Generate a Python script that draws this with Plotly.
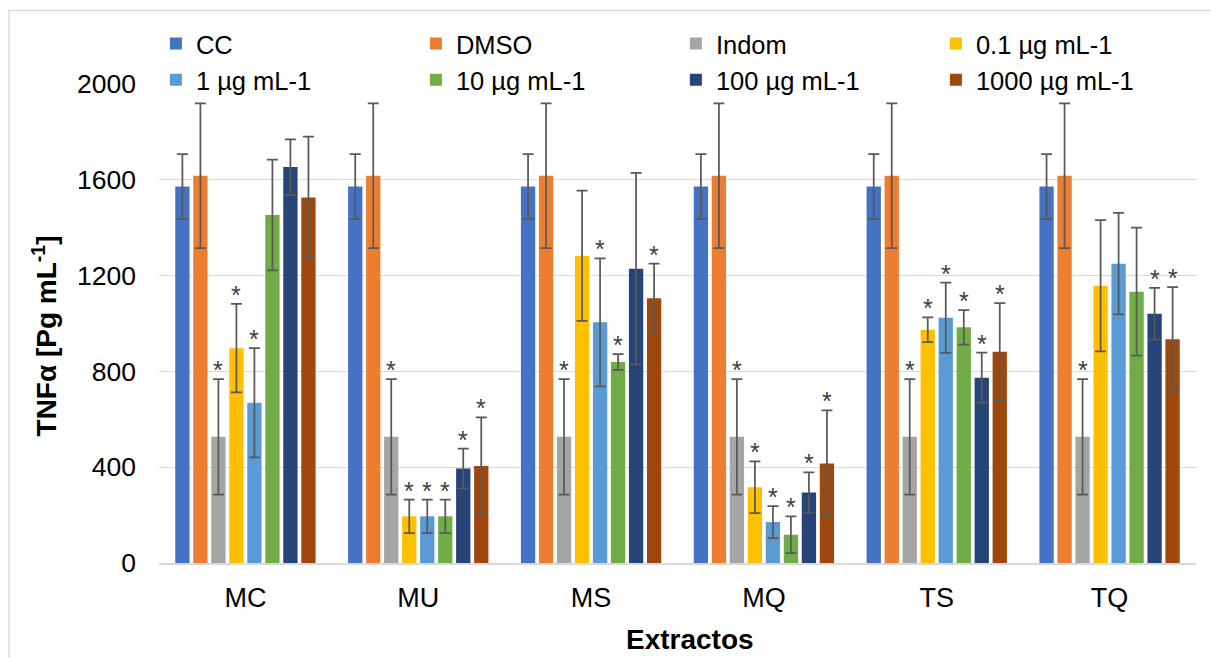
import plotly.graph_objects as go

categories = ["MC", "MU", "MS", "MQ", "TS", "TQ"]
series_names = ["CC", "DMSO", "Indom", "0.1 µg mL-1", "1 µg mL-1",
                "10 µg mL-1", "100 µg mL-1", "1000 µg mL-1"]
colors = ["#4472C4", "#ED7D31", "#A5A5A5", "#FFC000", "#5B9BD5",
          "#70AD47", "#264478", "#9E480E"]

cc = [1572, 1572, 1572, 1572, 1572, 1572]
cc_err = [135, 135, 135, 135, 135, 135]
dmso = [1617, 1617, 1617, 1617, 1617, 1617]
dmso_err = [302, 302, 302, 302, 302, 302]
indom = [527, 527, 527, 527, 527, 527]
indom_err = [241, 241, 241, 241, 241, 241]
c01 = [897, 195, 1283, 316, 974, 1158]
c01_err = [185, 70, 272, 108, 52, 274]
c1 = [669, 195, 1005, 171, 1024, 1250]
c1_err = [228, 70, 267, 67, 147, 212]
c10 = [1453, 195, 839, 118, 984, 1133]
c10_err = [231, 70, 33, 77, 72, 267]
c100 = [1653, 395, 1229, 294, 774, 1041]
c100_err = [116, 83, 400, 84, 104, 108]
c1000 = [1526, 405, 1105, 415, 882, 934]
c1000_err = [254, 203, 145, 222, 203, 218]

# significance marks (asterisk) per series, per extract
cc_sig = [0, 0, 0, 0, 0, 0]
dmso_sig = [0, 0, 0, 0, 0, 0]
indom_sig = [1, 1, 1, 1, 1, 1]
c01_sig = [1, 1, 0, 1, 1, 0]
c1_sig = [1, 1, 1, 1, 1, 0]
c10_sig = [0, 1, 1, 1, 1, 0]
c100_sig = [0, 1, 0, 1, 1, 1]
c1000_sig = [0, 1, 1, 1, 1, 1]

values = [cc, dmso, indom, c01, c1, c10, c100, c1000]
errors = [cc_err, dmso_err, indom_err, c01_err, c1_err, c10_err, c100_err, c1000_err]
sigs = [cc_sig, dmso_sig, indom_sig, c01_sig, c1_sig, c10_sig, c100_sig, c1000_sig]

FONT = "Liberation Sans, Arial, sans-serif"
slot = 0.10417
bar_w = 0.0828
n = len(series_names)

fig = go.Figure()
annotations = []
for j, (name, col, vals, errs, sg) in enumerate(zip(series_names, colors, values, errors, sigs)):
    xs = [i + (j - (n - 1) / 2) * slot for i in range(len(categories))]
    fig.add_trace(go.Bar(
        x=xs, y=vals, width=bar_w, name=name,
        marker=dict(color=col, line=dict(width=0)),
        error_y=dict(type="data", array=errs, visible=True,
                     color="#595959", thickness=1.75, width=5.5),
    ))
    for x, v, e, s in zip(xs, vals, errs, sg):
        if s:
            annotations.append(dict(
                x=x, y=v + e, xref="x", yref="y", text="*", showarrow=False,
                yanchor="bottom", yshift=-7,
                font=dict(family=FONT, size=25, color="#404040")))

annotations.append(dict(
    x=-0.1099, y=0.473, xref="paper", yref="paper", textangle=-90,
    xanchor="center", yanchor="middle",
    text="<b>TNFα [Pg mL<sup>-1</sup>]</b>", showarrow=False,
    font=dict(family=FONT, size=28, color="#000000")))
annotations.append(dict(
    x=0.512, y=-0.1606, xref="paper", yref="paper",
    xanchor="center", yanchor="middle",
    text="<b>Extractos</b>", showarrow=False,
    font=dict(family=FONT, size=28, color="#000000")))

fig.update_layout(
    width=1211, height=658,
    margin=dict(l=159, r=15, t=83.5, b=95),
    paper_bgcolor="white", plot_bgcolor="white",
    barmode="overlay",
    showlegend=True,
    legend=dict(orientation="h", x=-0.003, xanchor="left", y=1.1326, yanchor="top",
                entrywidth=215, entrywidthmode="pixels",
                bgcolor="rgba(0,0,0,0)", traceorder="normal",
                font=dict(family=FONT, size=25.5, color="#000000")),
    xaxis=dict(range=[-0.5, 5.5], tickmode="array",
               tickvals=list(range(len(categories))), ticktext=categories,
               showgrid=False, zeroline=False, showline=True,
               linecolor="#D9D9D9", linewidth=1.5, ticks="",
               ticklabelstandoff=10,
               tickfont=dict(family=FONT, size=27, color="#000000")),
    yaxis=dict(range=[0, 2000], tickmode="array",
               tickvals=[0, 400, 800, 1200, 1600, 2000],
               showgrid=True, gridcolor="#D9D9D9", gridwidth=1,
               zeroline=False, showline=False, ticks="",
               ticklabelstandoff=22,
               tickfont=dict(family=FONT, size=26.5, color="#000000")),
    annotations=annotations,
    shapes=[dict(type="rect", xref="paper", yref="paper",
                 x0=(9 - 159) / 1037, x1=(1220 - 159) / 1037,
                 y0=(563 - 670) / 479.5, y1=1 + (83.5 - 10) / 479.5,
                 line=dict(color="#D9D9D9", width=1.5), layer="below")],
)

fig.write_html("out.html")
